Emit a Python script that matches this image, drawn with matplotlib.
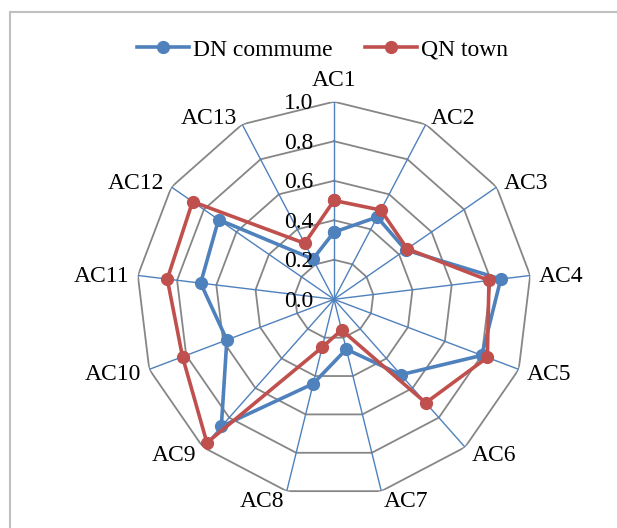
import numpy as np
import matplotlib.pyplot as plt
from matplotlib.patches import Rectangle

# axis names and values
labels = ['AC1', 'AC2', 'AC3', 'AC4', 'AC5', 'AC6', 'AC7',
          'AC8', 'AC9', 'AC10', 'AC11', 'AC12', 'AC13']
dn_commune = [0.34, 0.47, 0.44, 0.85, 0.80, 0.51, 0.26,
              0.44, 0.86, 0.58, 0.68, 0.71, 0.23]
qn_town = [0.50, 0.51, 0.45, 0.79, 0.83, 0.70, 0.16,
           0.25, 0.97, 0.82, 0.85, 0.87, 0.32]
ticks = [0.0, 0.2, 0.4, 0.6, 0.8, 1.0]

blue = '#4F81BD'
red = '#C0504D'
grid_gray = '#868686'
fs = 17

plt.rcParams['font.family'] = ['Liberation Serif', 'DejaVu Serif']

n = len(labels)
angles = np.linspace(0, 2 * np.pi, n, endpoint=False)
closed = np.append(angles, angles[0])

fig = plt.figure(figsize=(6.17, 5.28), dpi=100)

# light gray chart frame (only left and top edges fall inside the image)
fig.patches.append(Rectangle((9.5 / 617, -0.1), 1.2, (528 - 12.5) / 528 + 0.1,
                             transform=fig.transFigure, fill=False,
                             edgecolor='#BFBFBF', linewidth=1.5))

ax = fig.add_axes([0.2211, 0.0589, 0.6405, 0.7485], projection='polar')
ax.set_theta_offset(np.pi / 2)
ax.set_theta_direction(-1)
ax.set_ylim(0, 1)
ax.grid(False)
ax.spines['polar'].set_visible(False)
ax.set_xticks([])
ax.set_yticks([])
ax.patch.set_alpha(0)

# polygon rings
for t in ticks[1:]:
    ax.plot(closed, [t] * (n + 1), color=grid_gray, lw=1.3, zorder=1)
# spokes
for a in angles:
    ax.plot([a, a], [0, 1], color=blue, lw=1.0, zorder=2)

# data series
ax.plot(closed, dn_commune + dn_commune[:1], color=blue, lw=2.6,
        marker='o', ms=8.5, label='DN commume', zorder=4)
ax.plot(closed, qn_town + qn_town[:1], color=red, lw=2.6,
        marker='o', ms=8.5, label='QN town', zorder=5)

# radial tick labels along AC1
for t in ticks:
    ax.annotate(f'{t:.1f}', xy=(0, t), xytext=(-21, -2), textcoords='offset pixels',
                ha='right', va='center', fontsize=fs, zorder=6)

# category labels
for a, lab in zip(angles, labels):
    sx = np.sin(a)
    cy = np.cos(a)
    if abs(sx) < 0.05:
        ax.annotate(lab, xy=(a, 1.0), xytext=(0, 21), textcoords='offset pixels',
                    ha='center', va='center', fontsize=fs)
    else:
        gap = 8 * abs(sx) + 1
        ax.annotate(lab, xy=(a, 1.0), xytext=(gap * np.sign(sx), 9 * cy - 2),
                    textcoords='offset pixels',
                    ha='left' if sx > 0 else 'right', va='center', fontsize=fs)

leg = fig.legend(loc='center', ncol=2, frameon=False, fontsize=fs,
                 handlelength=2.2, handletextpad=0.2, columnspacing=1.35,
                 bbox_to_anchor=(322.5 / 617, 1 - 50 / 528),
                 bbox_transform=fig.transFigure)

fig.savefig('out.png', dpi=100)
